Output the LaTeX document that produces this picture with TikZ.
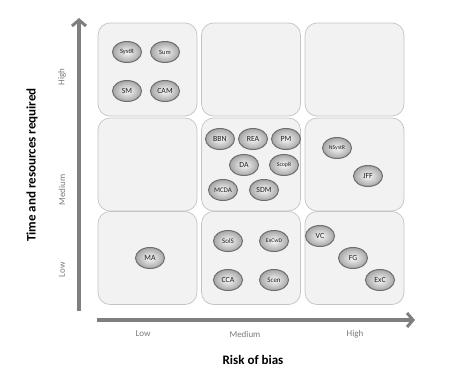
\documentclass[tikz,border=0pt]{standalone}
\usepackage{fontspec}
\setmainfont{Carlito}
\usetikzlibrary{shapes.geometric,arrows.meta}
\definecolor{boxfill}{HTML}{F2F2F2}
\definecolor{boxline}{HTML}{C4C4C4}
\definecolor{axisgray}{HTML}{7F7F7F}
\definecolor{lblgray}{HTML}{7A7A7A}
\definecolor{beadline}{HTML}{6E6E6E}
\definecolor{beadtext}{HTML}{202020}
\tikzset{
  cell/.style={draw=boxline, fill=boxfill, line width=0.7pt, rounded corners=12pt, minimum width=99pt, minimum height=93pt, inner sep=0pt},
  bead/.style={ellipse, draw=beadline, line width=1pt, shading=radial, inner color=gray!5, outer color=gray!70, minimum width=29pt, minimum height=21pt, inner sep=0pt, text=beadtext, font=\fontsize{7.8}{7.8}\selectfont},
  smallbead/.style={bead, font=\fontsize{5.8}{5.8}\selectfont},
  axis/.style={draw=axisgray, line width=4pt, -{Straight Barb[length=6pt,width=14pt,line width=3pt]}},
  tick/.style={text=lblgray, font=\fontsize{9}{9}\selectfont},
  title/.style={font=\bfseries\fontsize{13}{13}\selectfont, text=black}
}
\begin{document}
\begin{tikzpicture}[x=1pt,y=-1pt]
\useasboundingbox (0,0) rectangle (452,381);
\fill[white] (0,0) rectangle (452,381);
% cells
\node[cell] (c11) at (147.5,69.5) {};
\node[cell] (c12) at (251,69.5) {};
\node[cell] (c13) at (354.5,69.5) {};
\node[cell] (c21) at (147.5,164.5) {};
\node[cell] (c22) at (251,164.5) {};
\node[cell] (c23) at (354.5,164.5) {};
\node[cell] (c31) at (147.5,258) {};
\node[cell] (c32) at (251,258) {};
\node[cell] (c33) at (354.5,258) {};
% axes
\coordinate (ys) at (79,311);
\coordinate (ye) at (79,18);
\coordinate (xs) at (97,320);
\coordinate (xe) at (415,320);
\draw[axis] (ys) -- (ye);
\draw[axis] (xs) -- (xe);
% axis labels
\node[tick, rotate=90] (yh) at (62,77) {High};
\node[tick, rotate=90] (ym) at (62,190) {Medium};
\node[tick, rotate=90] (yl) at (62,270) {Low};
\node[tick] (xl) at (143,334) {Low};
\node[tick] (xm) at (245,334) {Medium};
\node[tick] (xh) at (355,334) {High};
\node[title, rotate=90] (yt) at (32,165) {Time and resources required};
\node[title] (xt) at (253,360) {Risk of bias};
% beads row 1
\node[bead, font=\fontsize{6.5}{6.5}\selectfont] (systr) at (127,52) {SystR};
\node[bead, font=\fontsize{6.5}{6.5}\selectfont] (sum) at (165,52) {Sum};
\node[bead] (sm) at (127,91) {SM};
\node[bead] (cam) at (165,91) {CAM};
% row 2
\node[bead] (bbn) at (220,139) {BBN};
\node[bead] (rea) at (253,139) {REA};
\node[bead] (pm) at (286,139) {PM};
\node[bead] (da) at (244,165) {DA};
\node[smallbead] (scopr) at (284,165) {ScopR};
\node[bead, font=\fontsize{7}{7}\selectfont] (mcda) at (223,190) {MCDA};
\node[bead] (sdm) at (264,190) {SDM};
\node[smallbead] (nsystr) at (337,148) {NSystR};
\node[bead] (jff) at (368,176) {JFF};
% row 3
\node[bead] (ma) at (150,258) {MA};
\node[bead, font=\fontsize{7}{7}\selectfont] (sols) at (228,241) {SolS};
\node[smallbead] (excwd) at (274,241) {ExCwD};
\node[bead] (cca) at (228,280) {CCA};
\node[bead, font=\fontsize{7}{7}\selectfont] (scen) at (274,280) {Scen};
\node[bead] (vc) at (320,236) {VC};
\node[bead] (fg) at (353,258) {FG};
\node[bead] (exc) at (380,280) {ExC};
\end{tikzpicture}
\end{document}
